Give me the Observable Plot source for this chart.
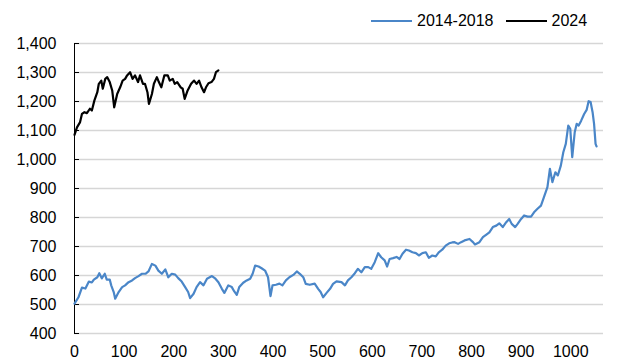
<!DOCTYPE html>
<html>
<head>
<meta charset="utf-8">
<script src="https://cdn.jsdelivr.net/npm/d3@7"></script>
<script src="https://cdn.jsdelivr.net/npm/@observablehq/plot@0.6"></script>
<style>
  html, body { margin: 0; padding: 0; background: #fff; }
  body { width: 637px; height: 363px; overflow: hidden; font-family: 'Liberation Sans', Arial, sans-serif; }
  #legend { height: 30px; box-sizing: border-box; padding-top: 12px; padding-left: 371px; display: flex; align-items: center; font-size: 16px; color: #000; }
  .sw { width: 41px; height: 2.5px; margin-right: 5px; }
  .lab { margin-right: 12px; }
</style>
</head>
<body>
<div id="legend"></div>
<div id="chart"></div>
<script>
const seriesNames = ["2014-2018", "2024"];
const seriesColors = ["#4a86c8", "#000000"];
const xTicks = [0, 100, 200, 300, 400, 500, 600, 700, 800, 900, 1000];
const yTicks = [400, 500, 600, 700, 800, 900, 1000, 1100, 1200, 1300, 1400];

const days14 = [0,8,15,22,29,35,39,46,50,55,61,65,71,74,79,82,89,96,102,109,116,122,129,136,143,149,156,163,169,176,183,189,196,203,209,216,223,229,233,240,246,253,
260,267,277,284,290,297,302,310,317,322,327,332,340,347,354,359,364,371,377,384,390,395,399,406,413,419,426,433,441,448,454,461,466,474,484,491,496,501,508,515,
521,528,538,545,551,558,565,571,578,585,592,598,605,612,618,625,630,635,642,649,655,661,668,674,681,688,694,701,708,714,721,728,734,741,748,755,761,
766,773,779,786,796,803,807,816,823,830,836,843,850,856,863,870,876,881,888,893,900,906,913,920,926,933,940,946,953,958,963,969,974,980,985,990,995,999,1003,1008,1012,1016,1021,1027,1032,1036,1040,1044,1047,1050,1052];
const vals14 = [503,525,558,555,579,576,586,594,608,590,606,586,586,566,543,520,543,560,566,577,583,591,598,606,606,614,640,634,617,606,621,594,606,603,591,579,560,543,522,537,560,577,
566,589,598,589,577,554,540,566,560,545,533,560,575,583,589,606,634,631,625,617,594,529,566,568,572,566,583,594,602,614,606,594,571,568,572,554,543,525,540,554,
571,580,577,566,583,594,608,623,611,629,629,623,646,677,663,652,631,657,660,664,657,675,689,686,680,677,669,677,680,661,669,666,680,689,703,711,714,
715,709,715,721,726,715,707,715,732,741,749,767,772,780,767,784,795,778,767,778,795,807,803,803,818,830,841,870,905,968,922,956,945,979,1025,1054,1117,1106,1008,1094,1123,1117,1134,1157,1171,1201,1198,1163,1123,1054,1045];

const days24 = [0,5,11,15,20,25,31,35,40,46,49,54,57,62,66,71,76,80,86,92,97,102,106,112,117,122,128,132,138,142,147,150,156,160,166,170,175,181,188,192,198,202,207,214,218,222,228,235,241,246,251,256,261,265,270,276,281,285,290];
const vals24 = [1085,1111,1128,1157,1163,1160,1175,1169,1203,1232,1261,1272,1244,1278,1284,1267,1238,1180,1226,1249,1272,1278,1290,1301,1278,1290,1267,1290,1261,1261,1232,1192,1226,1261,1284,1267,1249,1290,1290,1272,1278,1261,1267,1249,1244,1209,1238,1261,1272,1261,1272,1249,1232,1249,1263,1267,1278,1301,1307];

// legend
const legend = document.getElementById("legend");
seriesNames.forEach((name, i) => {
  const sw = document.createElement("div");
  sw.className = "sw";
  sw.style.background = seriesColors[i];
  const lab = document.createElement("span");
  lab.className = "lab";
  lab.textContent = name;
  legend.appendChild(sw);
  legend.appendChild(lab);
});

const chart = Plot.plot({
  width: 637,
  height: 333,
  marginTop: 13,
  marginBottom: 30,
  marginLeft: 74,
  marginRight: 34,
  style: { fontFamily: "'Liberation Sans', Arial, sans-serif", fontSize: "16px", color: "#000", background: "#fff" },
  x: { domain: [0, 1066] },
  y: { domain: [400, 1400] },
  marks: [
    Plot.ruleY(yTicks, { stroke: "#d6d6d6", strokeWidth: 1.5 }),
    Plot.axisX({ ticks: xTicks, tickSize: 0, tickPadding: 12, label: null, tickFormat: d => String(d) }),
    Plot.axisY({ ticks: yTicks, tickSize: -5, tickPadding: 23, label: null, tickFormat: d3.format(","), stroke: "#000" }),
    Plot.ruleX([0], { y1: 400, y2: 1400, stroke: "#000", strokeWidth: 1 }),
    Plot.line(days14, { x: days14, y: vals14, stroke: seriesColors[0], strokeWidth: 2.2 }),
    Plot.line(days24, { x: days24, y: vals24, stroke: seriesColors[1], strokeWidth: 2.2 })
  ]
});
document.getElementById("chart").appendChild(chart);
</script>
</body>
</html>
